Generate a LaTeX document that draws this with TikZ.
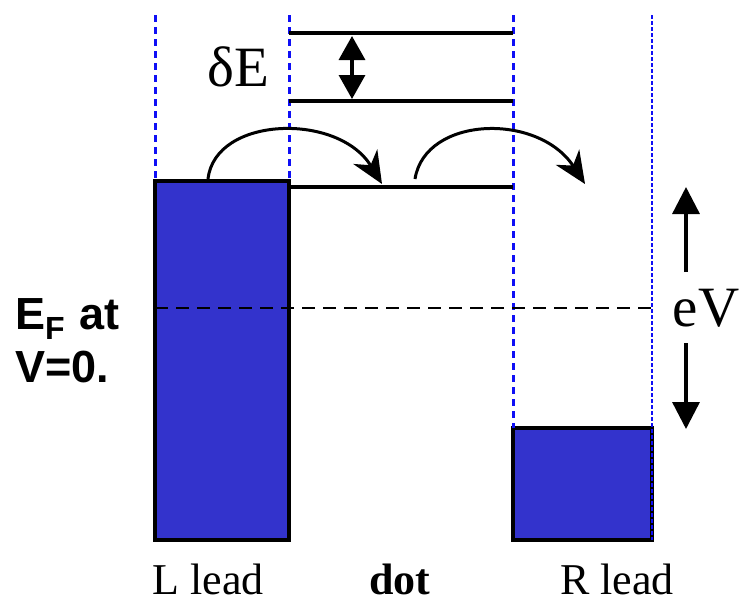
\documentclass[tikz,border=0pt]{standalone}
\usepackage{fontspec}
\setmainfont{Liberation Serif}
\newfontfamily\labelsans{Liberation Sans}
\usetikzlibrary{arrows.meta}
\definecolor{leadblue}{RGB}{51,51,204}
\definecolor{guideblue}{RGB}{15,15,245}
\begin{document}
\begin{tikzpicture}[x=1pt,y=-1pt,
  guide/.style={guideblue,line width=3pt,dash pattern=on 7pt off 5pt},
  fineguide/.style={guideblue,line width=1.8pt,dash pattern=on 3.5pt off 2.5pt},
  lead/.style={draw=black,fill=leadblue,line width=3.2pt},
  level/.style={line width=4.4pt},
  hop/.style={line width=3pt,-{Stealth[length=32pt,width=28pt,inset=10pt]}},
  biasarrow/.style={line width=3.4pt,-{Triangle[length=27pt,width=27pt]}},
  gaparrow/.style={line width=3.4pt,{Triangle[length=24pt,width=26pt]}-{Triangle[length=24pt,width=26pt]}},
  caption/.style={font=\fontsize{44}{50}\selectfont,anchor=base},
  sidenote/.style={font=\labelsans\bfseries\fontsize{45}{50}\selectfont,anchor=base west,inner sep=0pt}]
\useasboundingbox (0,0) rectangle (741,603);

% electrodes
\filldraw[lead] (155,181) rectangle (289,540);
\filldraw[lead] (513,428) rectangle (652,540);

% guide lines marking the lead and dot boundaries
\draw[guide] (155,15) -- (155,181);
\draw[guide] (289,15) -- (289,181);
\draw[guide] (513,15) -- (513,428);
\draw[fineguide] (652,15) -- (652,540);

% dot levels
\coordinate (l1a) at (289,33);  \coordinate (l1b) at (513,33);
\coordinate (l2a) at (289,101); \coordinate (l2b) at (513,101);
\coordinate (l3a) at (289,187); \coordinate (l3b) at (513,187);
\draw[level] (l1a) -- (l1b);
\draw[level] (l2a) -- (l2b);
\draw[level] (l3a) -- (l3b);

% level spacing
\coordinate (gtop) at (352,36);
\coordinate (gbot) at (352,99);
\draw[gaparrow] (gbot) -- (gtop);
\node[font=\fontsize{57}{60}\selectfont] (dE) at (238,67) {δE};

% Fermi level at zero bias
\coordinate (efl) at (155,308);
\coordinate (efr) at (652,308);
\draw[line width=2.8pt,dash pattern=on 13pt off 8pt] (efl) -- (efr);
\node[sidenote] (ef) at (15,329) {E\raisebox{-10pt}{\fontsize{32}{32}\selectfont F}\hspace{2pt} at};
\node[sidenote] (vz) at (15,382) {V=0.};

% tunnelling hops
\coordinate (h1s) at (208,179); \coordinate (h1e) at (382,184);
\coordinate (h2s) at (415,179); \coordinate (h2e) at (585,184);
\draw[hop] (h1s) .. controls (215,116) and (338,112) .. (h1e);
\draw[hop] (h2s) .. controls (425,116) and (538,112) .. (h2e);

% bias window
\coordinate (vup0) at (686,272); \coordinate (vup1) at (686,187);
\coordinate (vdn0) at (686,343); \coordinate (vdn1) at (686,429);
\draw[biasarrow] (vup0) -- (vup1);
\draw[biasarrow] (vdn0) -- (vdn1);
\node[font=\fontsize{57}{60}\selectfont] (eV) at (706,308) {eV};

% captions
\node[caption] (ll) at (208,594) {L lead};
\node[caption,font=\bfseries\fontsize{44}{50}\selectfont] (dot) at (400,594) {dot};
\node[caption] (rl) at (617,594) {R lead};
\end{tikzpicture}
\end{document}
